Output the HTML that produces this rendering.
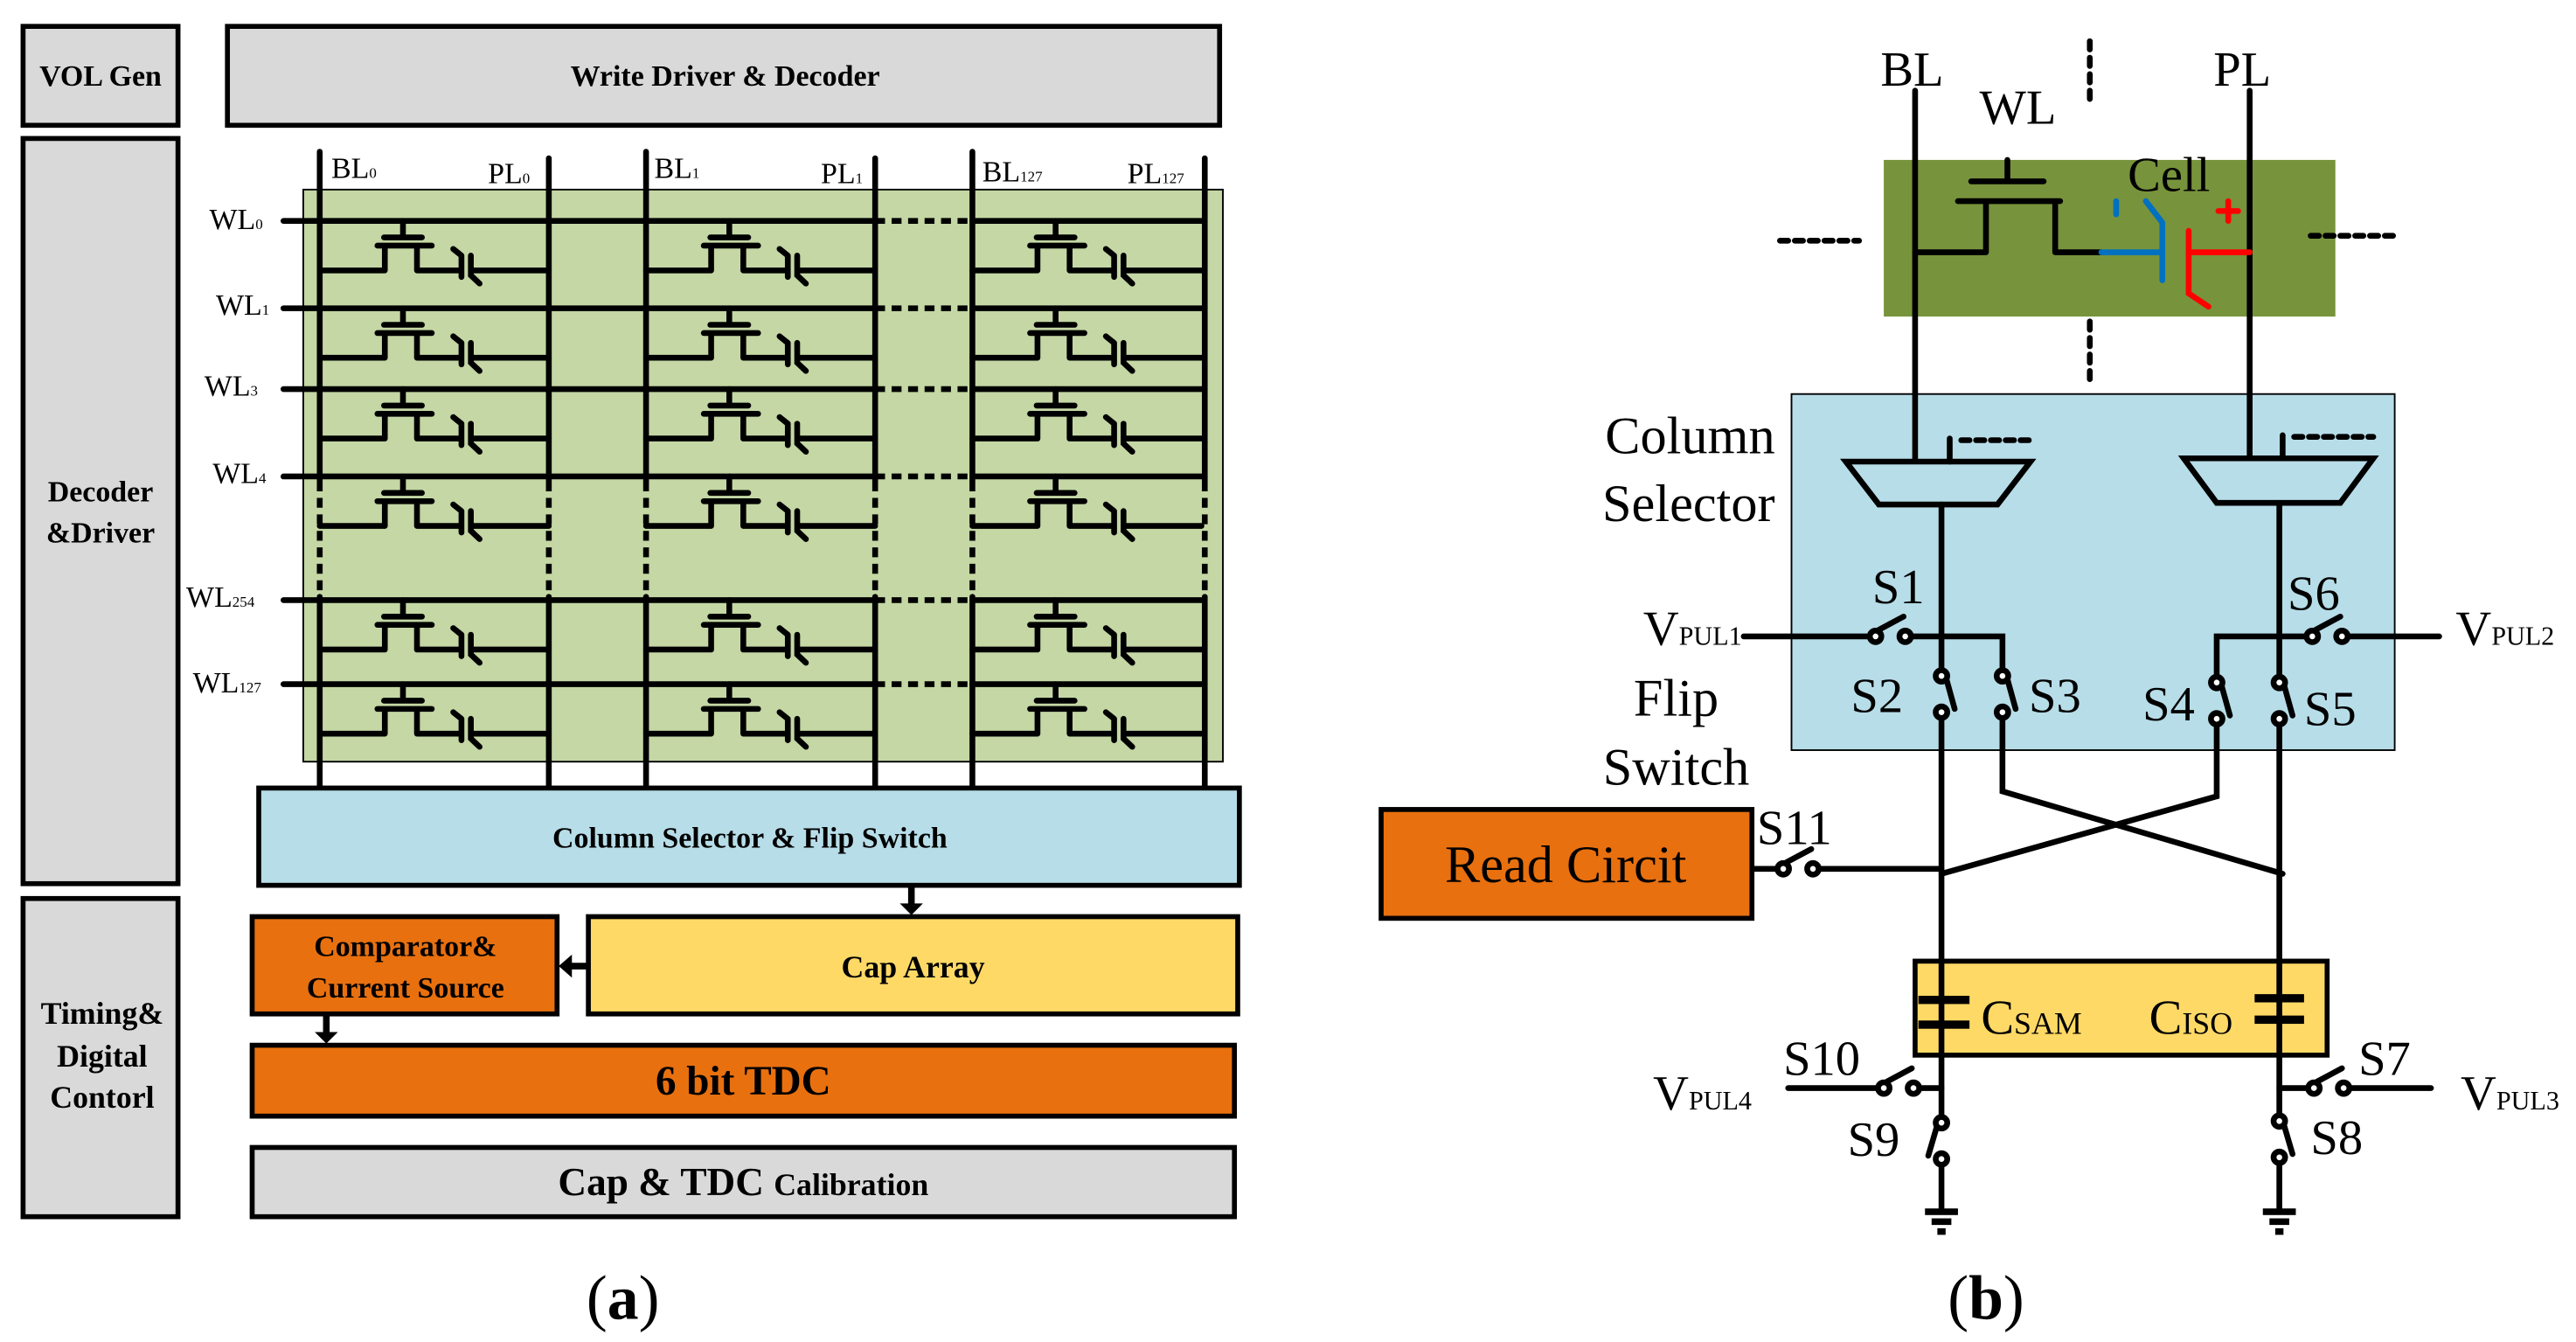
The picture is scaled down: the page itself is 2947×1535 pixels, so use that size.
<!DOCTYPE html>
<html><head><meta charset="utf-8"><style>
html,body{margin:0;padding:0;background:#fff;}
svg{display:block;}
text{font-family:"Liberation Serif","Times New Roman",Times,serif;fill:#000;}
.b{font-weight:bold;}
</style></head><body>
<svg width="2947" height="1535" viewBox="0 0 1563 814" preserveAspectRatio="none" xmlns="http://www.w3.org/2000/svg" font-family="Liberation Serif, Times New Roman, serif">
<defs>
<g id="cell" fill="none" stroke="#000" stroke-width="3.5" stroke-linecap="round">
<path d="M50.5,0V10M39,10H62M35,15H68M39.5,15V30M59,15V30M0,30H39.5M59,30H86M86,21V34M81,17L86,21M91.7,21V33L97,38M91.7,30H139"/>
</g>
<g id="swh" fill="none" stroke="#000" stroke-width="3.5" stroke-linecap="round">
<circle cx="0" cy="0" r="3.5" fill="#fff"/><circle cx="18" cy="0" r="3.5" fill="#fff"/><path d="M2,-4L17,-12"/>
</g>
<g id="swv" fill="none" stroke="#000" stroke-width="3.5" stroke-linecap="round">
<circle cx="0" cy="0" r="3.5" fill="#fff"/><circle cx="0" cy="22" r="3.5" fill="#fff"/><path d="M3,2L8,20"/>
</g>
<g id="gnd" fill="#000">
<rect x="-10" y="0" width="20" height="4"/><rect x="-6" y="6" width="12" height="4"/><rect x="-2.5" y="12" width="5" height="4"/>
</g>
</defs>

<g stroke="#000" stroke-width="3">
<rect x="14" y="16" width="94" height="60" fill="#d9d9d9"/>
<rect x="138" y="16" width="602" height="60" fill="#d9d9d9"/>
<rect x="14" y="84" width="94" height="452" fill="#d9d9d9"/>
<rect x="14" y="545" width="94" height="193" fill="#d9d9d9"/>
</g>
<text x="61" y="52" font-size="18" class="b" text-anchor="middle">VOL Gen</text>
<text x="440" y="52" font-size="18" class="b" text-anchor="middle">Write Driver &amp; Decoder</text>
<text x="61" y="304" font-size="18" class="b" text-anchor="middle">Decoder</text>
<text x="61" y="329" font-size="18" class="b" text-anchor="middle">&amp;Driver</text>
<text x="62" y="621" font-size="19" class="b" text-anchor="middle">Timing&amp;</text>
<text x="62" y="647" font-size="19" class="b" text-anchor="middle">Digital</text>
<text x="62" y="672" font-size="19" class="b" text-anchor="middle">Contorl</text>

<rect x="184" y="115" width="558" height="347" fill="#c4d7a4" stroke="#000" stroke-width="1"/>

<g stroke="#000" stroke-width="3.5" stroke-linecap="round" fill="none">
<path d="M172,134H531M590,134H731M172,187H531M590,187H731M172,236H531M590,236H731M172,289H531M590,289H731M172,364H531M590,364H731M172,415H531M590,415H731"/>
<path d="M531,134H590M531,187H590M531,236H590M531,289H590M531,364H590M531,415H590" stroke-dasharray="6,4" stroke-linecap="butt"/>
<path d="M194,92V292M333,96V292M392,92V292M531,96V292M590,92V292M731,96V292"/>
<path d="M194,362V478M333,362V478M392,362V478M531,362V478M590,362V478M731,362V478"/>
<path d="M194,292V362M333,292V362M392,292V362M531,292V362M590,292V362M731,292V362" stroke-dasharray="6,4" stroke-linecap="butt"/>
</g>
<use href="#cell" x="194" y="134"/><use href="#cell" x="392" y="134"/><use href="#cell" x="590" y="134"/>
<use href="#cell" x="194" y="187"/><use href="#cell" x="392" y="187"/><use href="#cell" x="590" y="187"/>
<use href="#cell" x="194" y="236"/><use href="#cell" x="392" y="236"/><use href="#cell" x="590" y="236"/>
<use href="#cell" x="194" y="289"/><use href="#cell" x="392" y="289"/><use href="#cell" x="590" y="289"/>
<use href="#cell" x="194" y="364"/><use href="#cell" x="392" y="364"/><use href="#cell" x="590" y="364"/>
<use href="#cell" x="194" y="415"/><use href="#cell" x="392" y="415"/><use href="#cell" x="590" y="415"/>

<g font-size="18">
<text x="201" y="108">BL<tspan font-size="9">0</tspan></text>
<text x="296" y="111">PL<tspan font-size="9">0</tspan></text>
<text x="397" y="108">BL<tspan font-size="9">1</tspan></text>
<text x="498" y="111">PL<tspan font-size="9">1</tspan></text>
<text x="596" y="110">BL<tspan font-size="9">127</tspan></text>
<text x="684" y="111">PL<tspan font-size="9">127</tspan></text>
<text x="127" y="139">WL<tspan font-size="9">0</tspan></text>
<text x="131" y="191">WL<tspan font-size="9">1</tspan></text>
<text x="124" y="240">WL<tspan font-size="9">3</tspan></text>
<text x="129" y="293">WL<tspan font-size="9">4</tspan></text>
<text x="113" y="368">WL<tspan font-size="9">254</tspan></text>
<text x="117" y="420">WL<tspan font-size="9">127</tspan></text>
</g>

<g stroke="#000" stroke-width="3">
<rect x="157" y="478" width="595" height="59" fill="#b7dde8"/>
<rect x="153" y="556" width="185" height="59" fill="#e8700f"/>
<rect x="357" y="556" width="394" height="59" fill="#ffd966"/>
<rect x="153" y="634" width="596" height="43" fill="#e8700f"/>
<rect x="153" y="696" width="596" height="42" fill="#d9d9d9"/>
</g>
<text x="455" y="514" font-size="18" class="b" text-anchor="middle">Column Selector &amp; Flip Switch</text>
<text x="246" y="580" font-size="18" class="b" text-anchor="middle">Comparator&amp;</text>
<text x="246" y="605" font-size="18" class="b" text-anchor="middle">Current Source</text>
<text x="554" y="593" font-size="19" class="b" text-anchor="middle">Cap Array</text>
<text x="451" y="664" font-size="25" class="b" text-anchor="middle">6 bit TDC</text>
<text x="451" y="725" text-anchor="middle" class="b"><tspan font-size="24">Cap &amp; TDC </tspan><tspan font-size="19">Calibration</tspan></text>
<g fill="#000" stroke="#000" stroke-width="4">
<path d="M553,537V549" /><path d="M198,615V627"/><path d="M357,586H346"/>
</g>
<path d="M546,548H560L553,555Z M191,626H205L198,633Z M347,579V593L339,586Z" fill="#000"/>
<text x="378" y="800" font-size="38" text-anchor="middle">(<tspan class="b">a</tspan>)</text>

<rect x="1143" y="97" width="274" height="95" fill="#77933c"/>
<rect x="1087" y="239" width="366" height="216" fill="#b7dde8" stroke="#000" stroke-width="1"/>
<g stroke="#000" stroke-width="3.5" fill="none" stroke-linecap="round">
<path d="M1162,55V280M1365,55V278"/>
<path d="M1268,25V60M1268,195V235" stroke-dasharray="5,5"/>
<path d="M1080,146H1128M1402,143H1452M1190,267H1235M1392,265H1440" stroke-dasharray="5,4"/>
<path d="M1218,97V110M1196,110H1240M1188,122H1250M1205,122V153M1247,122V153M1162,153H1205M1247,153H1275"/>
<path d="M1120,280H1232L1212,306H1140Z" fill="#b7dde8"/>
<path d="M1325,278H1440L1420,305H1345Z" fill="#b7dde8"/>
<path d="M1183,266V280M1385,264V278"/>
<path d="M1178,306V410M1178,432V583M1383,305V414M1383,436V583"/>
<path d="M1058,386H1135M1156,386H1215V410M1215,432V480L1385,530"/>
<path d="M1480,386H1424M1400,386H1345V414M1345,436V483L1178,530"/>
<path d="M1063,527H1078M1100,527H1178"/>
<path d="M1178,583V681M1178,703V733M1383,583V680M1383,702V733"/>
<path d="M1085,660H1140M1162,660H1178M1383,660H1401M1423,660H1475"/>
</g>
<g stroke-width="3.5" fill="none" stroke-linecap="round">
<path d="M1275,153H1312M1312,135V170M1302,122L1312,135M1284,122V130" stroke="#0070c0"/>
<path d="M1328,140V178L1340,186M1328,153H1365M1352,122V134M1346,128H1358" stroke="#ff0000"/>
</g>
<g font-size="30">
<text x="1141" y="52">BL</text>
<text x="1201" y="75">WL</text>
<text x="1343" y="52">PL</text>
<text x="1291" y="116">Cell</text>
</g>
<g font-size="32">
<text x="1077" y="275" text-anchor="end">Column</text>
<text x="1077" y="316" text-anchor="end">Selector</text>
<text x="1017" y="434" text-anchor="middle">Flip</text>
<text x="1017" y="476" text-anchor="middle">Switch</text>
</g>
<use href="#swh" x="1138" y="386"/>
<use href="#swh" x="1403" y="386"/>
<use href="#swv" x="1178" y="410"/>
<use href="#swv" x="1215" y="410"/>
<use href="#swv" x="1345" y="414"/>
<use href="#swv" x="1383" y="414"/>
<use href="#swh" x="1082" y="527"/>
<use href="#swh" x="1143" y="660"/>
<use href="#swh" x="1404" y="660"/>
<g fill="none" stroke="#000" stroke-width="3.5" stroke-linecap="round">
<circle cx="1178" cy="681" r="3.5" fill="#fff"/><circle cx="1178" cy="703" r="3.5" fill="#fff"/><path d="M1175,684L1170,701"/>
<circle cx="1383" cy="680" r="3.5" fill="#fff"/><circle cx="1383" cy="702" r="3.5" fill="#fff"/><path d="M1386,683L1391,700"/>
</g>
<use href="#gnd" x="1178" y="733"/>
<use href="#gnd" x="1383" y="733"/>

<rect x="838" y="491" width="225" height="66" fill="#e8700f" stroke="#000" stroke-width="3"/>
<text x="950" y="535" font-size="32" text-anchor="middle">Read Circit</text>
<rect x="1162" y="583" width="250" height="57" fill="#ffd966" stroke="#000" stroke-width="3"/>
<g stroke="#000" stroke-width="3.5" fill="none">
<path d="M1178,583V640M1383,583V640" />
</g>
<g fill="#000">
<rect x="1164" y="604" width="31" height="5"/><rect x="1164" y="619" width="31" height="5"/>
<rect x="1368" y="603" width="30" height="5"/><rect x="1368" y="616" width="30" height="5"/>
</g>
<g font-size="30">
<text x="1136" y="366">S1</text>
<text x="1388" y="370">S6</text>
<text x="1123" y="432">S2</text>
<text x="1231" y="432">S3</text>
<text x="1300" y="437">S4</text>
<text x="1398" y="440">S5</text>
<text x="1066" y="512">S11</text>
<text x="1082" y="652">S10</text>
<text x="1121" y="701">S9</text>
<text x="1431" y="652">S7</text>
<text x="1402" y="700">S8</text>
<text x="997" y="391">V<tspan font-size="16">PUL1</tspan></text>
<text x="1490" y="391">V<tspan font-size="16">PUL2</tspan></text>
<text x="1003" y="673">V<tspan font-size="16">PUL4</tspan></text>
<text x="1493" y="673">V<tspan font-size="16">PUL3</tspan></text>
<text x="1202" y="627">C<tspan font-size="19">SAM</tspan></text>
<text x="1304" y="627">C<tspan font-size="19">ISO</tspan></text>
</g>
<text x="1205" y="800" font-size="38" text-anchor="middle">(<tspan class="b">b</tspan>)</text>
</svg>
</body></html>
